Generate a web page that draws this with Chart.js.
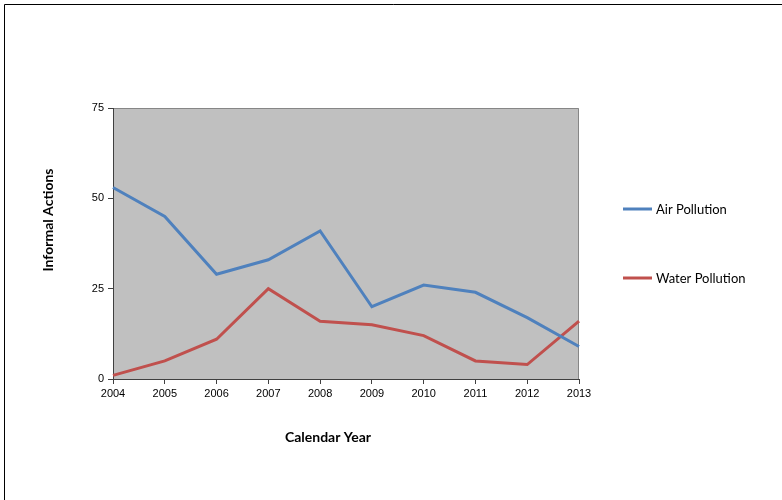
<!DOCTYPE html>
<html>
<head>
<meta charset="utf-8">
<script src="https://cdn.jsdelivr.net/npm/chart.js@4.4.1/dist/chart.umd.min.js"></script>
<style>
  html, body { margin: 0; padding: 0; background: #fff; }
  #wrap { position: relative; width: 782px; height: 500px; }
</style>
</head>
<body>
<div id="wrap"><canvas id="c" width="782" height="500"></canvas></div>
<script>
const years = ['2004','2005','2006','2007','2008','2009','2010','2011','2012','2013'];
const airPollution = [53, 45, 29, 33, 41, 20, 26, 24, 17, 9];
const waterPollution = [1, 5, 11, 25, 16, 15, 12, 5, 4, 16];
const seriesNames = ['Air Pollution', 'Water Pollution'];
const yTicks = [0, 25, 50, 75];
const xTitle = 'Calendar Year';
const yTitle = 'Informal Actions';

const decor = {
  id: 'decor',
  beforeDraw(chart) {
    const ctx = chart.ctx, a = chart.chartArea;
    ctx.save();
    ctx.fillStyle = '#fff';
    ctx.fillRect(0, 0, chart.width, chart.height);
    ctx.strokeStyle = '#000';
    ctx.lineWidth = 1;
    ctx.beginPath();
    ctx.moveTo(4.5, chart.height + 5);
    ctx.lineTo(4.5, 4.5);
    ctx.lineTo(chart.width + 5, 4.5);
    ctx.stroke();
    ctx.fillStyle = '#C0C0C0';
    ctx.fillRect(a.left, a.top, a.right - a.left, a.bottom - a.top);
    ctx.strokeStyle = '#868686';
    ctx.beginPath();
    ctx.moveTo(a.left, a.top + 0.5);
    ctx.lineTo(a.right - 0.5, a.top + 0.5);
    ctx.lineTo(a.right - 0.5, a.bottom);
    ctx.stroke();
    ctx.restore();
  },
  afterDraw(chart) {
    const ctx = chart.ctx;
    ctx.save();
    ctx.fillStyle = '#000';
    ctx.font = 'bold 14px Lato, "Open Sans", sans-serif';
    ctx.textAlign = 'center';
    ctx.textBaseline = 'middle';
    ctx.fillText(xTitle, 328, 437);
    ctx.translate(48, 220);
    ctx.rotate(-Math.PI / 2);
    ctx.fillText(yTitle, 0, 0);
    ctx.restore();

    ctx.save();
    ctx.font = '13px Lato, "Open Sans", sans-serif';
    ctx.textBaseline = 'middle';
    ctx.textAlign = 'left';
    const ys = [209, 278];
    chart.data.datasets.forEach((ds, i) => {
      ctx.strokeStyle = ds.borderColor;
      ctx.lineWidth = 3;
      ctx.beginPath();
      ctx.moveTo(623, ys[i]);
      ctx.lineTo(652, ys[i]);
      ctx.stroke();
      ctx.fillStyle = '#000';
      ctx.fillText(ds.label, 656, ys[i] + 1);
    });
    ctx.restore();
  }
};

new Chart(document.getElementById('c'), {
  type: 'line',
  data: {
    labels: years,
    datasets: [
      { label: seriesNames[0], data: airPollution, borderColor: '#4F81BD', backgroundColor: '#4F81BD',
        borderWidth: 3, pointRadius: 0, tension: 0, fill: false },
      { label: seriesNames[1], data: waterPollution, borderColor: '#C0504D', backgroundColor: '#C0504D',
        borderWidth: 3, pointRadius: 0, tension: 0, fill: false }
    ]
  },
  options: {
    responsive: false,
    animation: false,
    devicePixelRatio: 1,
    layout: { padding: { left: 0, top: 108, right: 203, bottom: 0 } },
    plugins: { legend: { display: false }, tooltip: { enabled: false }, title: { display: false } },
    scales: {
      x: {
        type: 'category',
        offset: false,
        afterFit(s) { s.height = 121; },
        grid: { drawOnChartArea: false, drawTicks: true, tickLength: 5, color: '#404040' },
        border: { color: '#404040', width: 1 },
        ticks: { color: '#000', font: { family: '"Liberation Sans", Arial, sans-serif', size: 11 }, padding: 3, maxRotation: 0, autoSkip: false }
      },
      y: {
        min: 0, max: 75,
        afterFit(s) { s.width = 113; },
        afterBuildTicks(s) { s.ticks = yTicks.map(v => ({ value: v })); },
        grid: { drawOnChartArea: false, drawTicks: true, tickLength: 5, color: '#404040' },
        border: { color: '#404040', width: 1 },
        ticks: { color: '#000', font: { family: '"Liberation Sans", Arial, sans-serif', size: 11 }, padding: 4 }
      }
    }
  },
  plugins: [decor]
});
</script>
</body>
</html>
